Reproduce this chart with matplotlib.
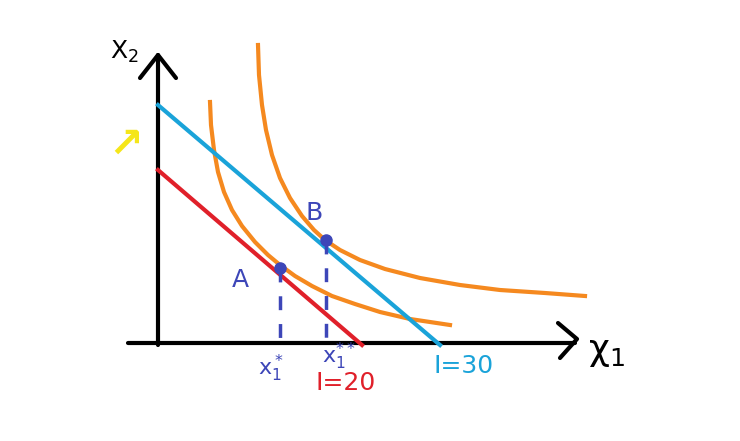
import matplotlib
matplotlib.use("Agg")
import matplotlib.pyplot as plt
import numpy as np

# budget lines (pixel-like coords)
red_x = [158, 362]; red_y = [170, 345]
blue_x = [158, 440]; blue_y = [105, 345]
# indifference curves
ic1_x = [210, 211, 214, 218, 224, 232, 242, 255, 268, 280, 295, 312, 332, 355, 380, 410, 450]
ic1_y = [102, 125, 150, 172, 192, 210, 226, 242, 255, 265, 276, 286, 296, 304, 312, 319, 325]
ic2_x = [258, 259, 262, 266, 272, 280, 290, 302, 314, 325, 340, 360, 385, 420, 460, 500, 545, 585]
ic2_y = [45, 75, 105, 130, 155, 178, 198, 216, 230, 240, 250, 260, 269, 278, 285, 290, 293, 296]
pts_x = [280, 326]; pts_y = [268, 240]

fig = plt.figure(figsize=(7.4, 4.41), dpi=100)
ax = fig.add_axes([0, 0, 1, 1])
ax.set_xlim(0, 740); ax.set_ylim(441, 0); ax.axis('off')

k = dict(color='black', lw=3, solid_capstyle='round')
ax.plot([158, 158], [345, 55], **k)
ax.plot([140, 158, 176], [78, 55, 78], **k)
ax.plot([128, 575], [343, 343], **k)
ax.plot([558, 577, 560], [323, 339, 358], **k)

ax.plot(ic1_x, ic1_y, color='#f5891f', lw=3)
ax.plot(ic2_x, ic2_y, color='#f5891f', lw=3)
ax.plot(red_x, red_y, color='#e0202a', lw=3)
ax.plot(blue_x, blue_y, color='#1aa3d9', lw=3)

ax.plot(pts_x, pts_y, 'o', color='#3d46b8', ms=8)
for x, y in zip(pts_x, pts_y):
    ax.plot([x, x], [y, 343], color='#3d46b8', lw=2.5, ls=(0, (4, 4)))

ax.text(110, 52, "X$_2$", fontsize=18, color='black', va='center')
ax.text(588, 352, "χ$_1$", fontsize=26, color='black', va='center')
ax.text(232, 280, "A", fontsize=18, color='#3d46b8', va='center')
ax.text(306, 213, "B", fontsize=18, color='#3d46b8', va='center')
ax.text(258, 368, "x$_1^*$", fontsize=16, color='#3d46b8', va='center')
ax.text(322, 356, "x$_1^{**}$", fontsize=16, color='#3d46b8', va='center')
ax.text(315, 383, "I=20", fontsize=18, color='#e0202a', va='center')
ax.text(433, 366, "I=30", fontsize=18, color='#1aa3d9', va='center')
ax.text(108, 145, "↗", fontsize=30, color='#f5e61a', va='center', fontweight='bold')

fig.savefig("out.png", dpi=100)
